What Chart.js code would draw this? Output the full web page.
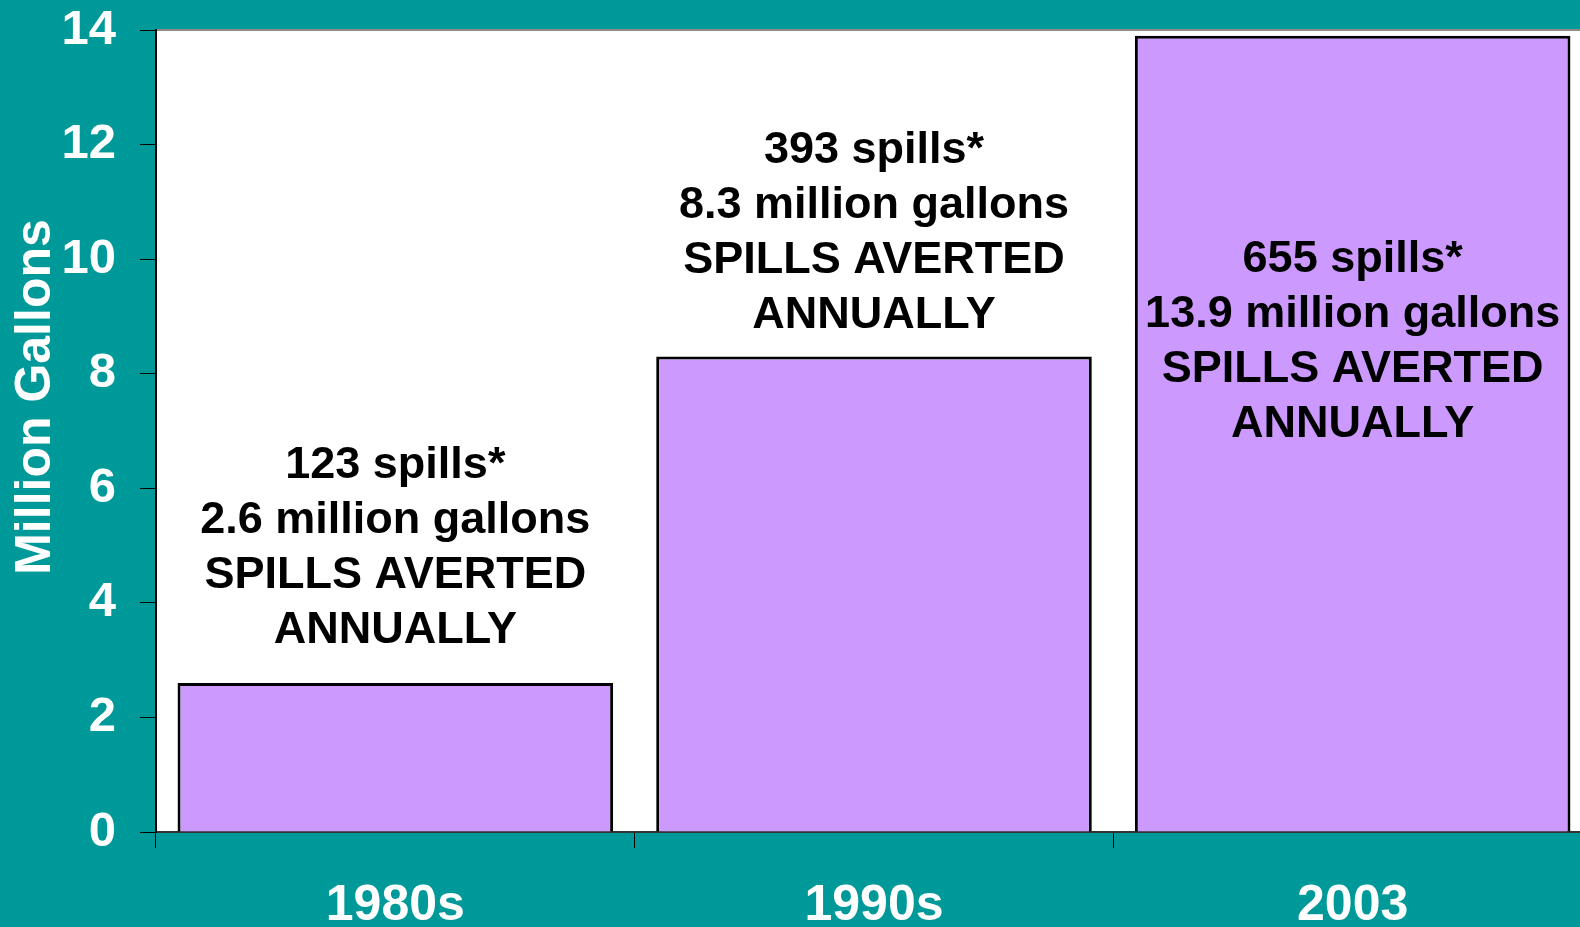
<!DOCTYPE html>
<html>
<head>
<meta charset="utf-8">
<script src="https://cdn.jsdelivr.net/npm/chart.js@4/dist/chart.umd.min.js"></script>
<style>
  html, body { margin: 0; padding: 0; background: #009999; overflow: hidden; }
  #wrap { width: 1592px; height: 927px; }
</style>
</head>
<body>
<div id="wrap"><canvas id="spillsChart" width="1592" height="927"></canvas></div>
<script>
// --- data ---
const decades = ['1980s', '1990s', '2003'];
const gallonsAverted = [2.6, 8.3, 13.9];   // million gallons
const spillCounts = [123, 393, 655];
const noteLevel = [6.4, 11.9, 10.0];       // where each note's first line sits (y units)
const yTicks = [0, 2, 4, 6, 8, 10, 12, 14];

const FONT = '"Liberation Sans", Arial, sans-serif';

// white plot area + grey top edge
const plotBackground = {
    id: 'plotBackground',
    beforeDraw(chart) {
        const { ctx, chartArea: a } = chart;
        ctx.save();
        ctx.fillStyle = '#ffffff';
        ctx.fillRect(a.left, a.top, a.right - a.left, a.bottom - a.top);
        ctx.strokeStyle = '#8c8c8c';
        ctx.lineWidth = 2;
        ctx.beginPath();
        ctx.moveTo(a.left, a.top);
        ctx.lineTo(a.right, a.top);
        ctx.stroke();
        ctx.restore();
    }
};

// text notes over the bars and the axis title
const barNotes = {
    id: 'barNotes',
    afterDatasetsDraw(chart) {
        const { ctx, chartArea: a } = chart;
        const x = chart.scales.x, y = chart.scales.y;
        ctx.save();
        ctx.fillStyle = '#000';
        ctx.font = 'bold 45px ' + FONT;
        ctx.textAlign = 'center';
        ctx.textBaseline = 'middle';
        decades.forEach(function (d, i) {
            const lines = [
                spillCounts[i] + ' spills*',
                gallonsAverted[i] + ' million gallons',
                'SPILLS AVERTED',
                'ANNUALLY'
            ];
            const cx = x.getPixelForValue(i);
            const top = y.getPixelForValue(noteLevel[i]);
            lines.forEach(function (t, k) {
                ctx.fillText(t, cx, top + k * 55);
            });
        });

        // y axis title
        ctx.fillStyle = '#fff';
        ctx.font = 'bold 50px ' + FONT;
        ctx.translate(36, (a.top + a.bottom) / 2 - 34);
        ctx.rotate(-Math.PI / 2);
        ctx.fillText('Million Gallons', 0, 0);
        ctx.restore();
    }
};

new Chart(document.getElementById('spillsChart'), {
    type: 'bar',
    data: {
        labels: decades,
        datasets: [{
            data: gallonsAverted,
            backgroundColor: '#cc99ff',
            borderColor: '#000000',
            borderWidth: 3,
            categoryPercentage: 1,
            barPercentage: 0.91
        }]
    },
    options: {
        responsive: false,
        animation: false,
        layout: { padding: 0 },
        plugins: {
            legend: { display: false },
            tooltip: { enabled: false }
        },
        scales: {
            x: {
                grid: { offset: true, drawOnChartArea: false, tickLength: 16, color: '#000', lineWidth: 1 },
                border: { color: '#333', width: 2 },
                ticks: { color: '#fff', font: { family: FONT, size: 50, weight: 'bold' }, padding: 28 },
                afterFit(s) {
                    s.height = 95;
                    s.paddingLeft = 0;
                    s.paddingRight = 0;
                }
            },
            y: {
                min: 0,
                max: 14,
                afterBuildTicks(s) { s.ticks = yTicks.map(v => ({ value: v })); },
                grid: { drawOnChartArea: false, tickLength: 16, color: '#000' },
                border: { color: '#000', width: 2 },
                ticks: { color: '#fff', font: { family: FONT, size: 49, weight: 'bold' }, padding: 24 },
                afterFit(s) {
                    s.width = 156;
                    s.paddingTop = 30;
                    s.paddingBottom = 0;
                }
            }
        }
    },
    plugins: [plotBackground, barNotes]
});
</script>
</body>
</html>
